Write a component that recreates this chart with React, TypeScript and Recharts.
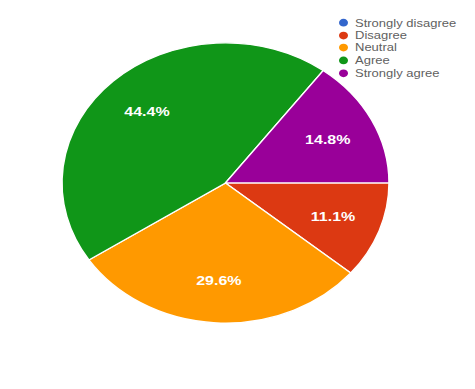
import { PieChart, Pie, Cell, Legend } from "recharts";

const categories = ["Strongly disagree", "Disagree", "Neutral", "Agree", "Strongly agree"];
const counts = [0, 3, 8, 12, 4];
const COLORS = ["#3366cc", "#dc3912", "#ff9900", "#109618", "#990099"];

const data = categories.map((name, i) => ({ name, value: counts[i] }));

// the reference is squashed vertically, so the whole chart is drawn then scaled
const SY = 0.857;
const RAD = Math.PI / 180;

const renderLabel = (props: any) => {
  const { cx, cy, midAngle, outerRadius, percent } = props;
  if (!percent) return null;
  const r = outerRadius * 0.7;
  const x = cx + r * Math.cos(-midAngle * RAD);
  const y = cy + r * Math.sin(-midAngle * RAD);
  return (
    <text
      x={x}
      y={y}
      fill="#fff"
      textAnchor="middle"
      dominantBaseline="central"
      fontSize={16}
      fontWeight="bold"
      fontFamily="Liberation Sans, Arial, sans-serif"
    >
      {`${(percent * 100).toFixed(1)}%`}
    </text>
  );
};

const renderLegend = () => (
  <div style={{ fontFamily: "Liberation Sans, Arial, sans-serif" }}>
    {categories.map((c, i) => (
      <div
        key={c}
        style={{ display: "flex", alignItems: "center", height: 14.7, fontSize: 13, color: "#5f5f5f" }}
      >
        <span
          style={{
            width: 9,
            height: 9,
            borderRadius: "50%",
            background: COLORS[i],
            marginRight: 7,
            display: "inline-block",
          }}
        />
        {c}
      </div>
    ))}
  </div>
);

export default function App() {
  return (
    <div style={{ position: "absolute", left: 0, top: 0, width: 475, height: 389, overflow: "hidden", background: "#fff" }}>
      <div style={{ width: 475, height: 454, transform: `scaleY(${SY})`, transformOrigin: "0 0" }}>
        <PieChart width={475} height={454}>
          <Pie
            data={data}
            dataKey="value"
            nameKey="name"
            cx={220.5}
            cy={208.5}
            outerRadius={163.5}
            startAngle={0}
            endAngle={-360}
            stroke="#fff"
            strokeWidth={1.5}
            labelLine={false}
            label={renderLabel}
            isAnimationActive={false}
          >
            {data.map((entry, index) => (
              <Cell key={`cell-${index}`} fill={COLORS[index]} />
            ))}
          </Pie>
          <Legend
            layout="vertical"
            verticalAlign="top"
            align="right"
            content={renderLegend}
            wrapperStyle={{ top: 19, left: 339, width: 136 }}
          />
        </PieChart>
      </div>
    </div>
  );
}
